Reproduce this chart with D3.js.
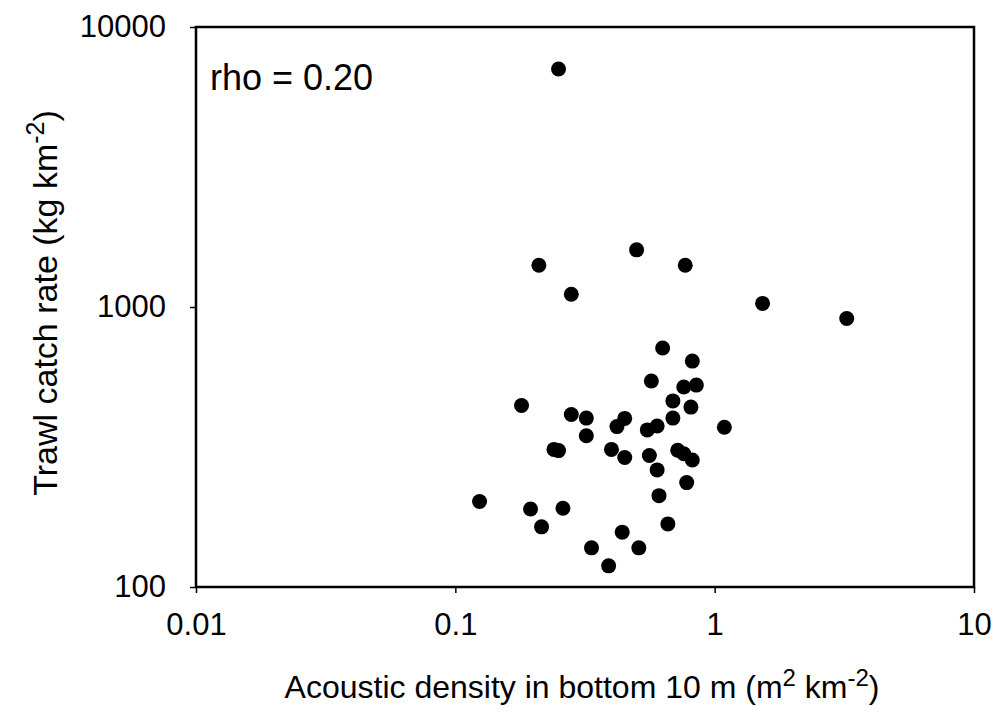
<!DOCTYPE html>
<html>
<head>
<meta charset="utf-8">
<style>
  body { margin: 0; background: #fff; }
  svg text { font-family: "Liberation Sans", Arial, sans-serif; fill: #000; }
</style>
</head>
<body>
<div id="chart"></div>
<script src="https://d3js.org/d3.v7.min.js"></script>
<script>
    // acoustic density (m2 km-2) and trawl catch rate (kg km-2)
    const acoustic = [0.25, 0.50, 0.21, 0.77, 0.28, 1.53, 3.23, 0.63, 0.82, 0.57,
        0.76, 0.85, 0.69, 0.81, 0.18, 0.28, 0.32, 0.69, 0.45, 0.42,
        0.55, 0.60, 1.09, 0.32, 0.24, 0.25, 0.40, 0.45, 0.56, 0.72,
        0.76, 0.82, 0.60, 0.78, 0.61, 0.124, 0.195, 0.26, 0.215, 0.66,
        0.44, 0.335, 0.51, 0.39];
    const catchRate = [7080, 1600, 1410, 1410, 1110, 1030, 910, 714, 641, 544,
        518, 526, 462, 439, 445, 413, 401, 401, 400, 374,
        364, 376, 372, 347, 310, 307, 310, 290, 295, 308,
        299, 284, 262, 236, 212, 202, 190, 191, 164, 168,
        157, 138, 138, 119];
    const xTicks = [0.01, 0.1, 1, 10];
    const yTicks = [100, 1000, 10000];
    const rhoLabel = 'rho = 0.20';

    const W = 998, H = 712;
    const margin = { top: 27, right: 24, bottom: 125, left: 196 };

    const svg = d3.select('#chart')
        .append('svg')
        .attr('width', W)
        .attr('height', H);

    const x = d3.scaleLog()
        .domain([0.01, 10])
        .range([margin.left, W - margin.right]);

    const y = d3.scaleLog()
        .domain([100, 10000])
        .range([H - margin.bottom, margin.top]);

    const fmt = d => String(d);

    const xAxis = svg.append('g')
        .attr('transform', `translate(0,${H - margin.bottom})`)
        .call(d3.axisBottom(x).tickValues(xTicks).tickFormat(fmt)
            .tickSize(6).tickSizeOuter(0).tickPadding(20));

    const yAxis = svg.append('g')
        .attr('transform', `translate(${margin.left},0)`)
        .call(d3.axisLeft(y).tickValues(yTicks).tickFormat(fmt)
            .tickSize(6).tickSizeOuter(0).tickPadding(24));

    [xAxis, yAxis].forEach(a => {
        a.select('.domain').remove();
        a.selectAll('line').attr('stroke', '#000').attr('stroke-width', 1.5);
        a.selectAll('text').attr('font-size', 31).attr('font-family', '"Liberation Sans", Arial, sans-serif');
    });

    // frame
    svg.append('rect')
        .attr('x', x(0.01))
        .attr('y', y(10000))
        .attr('width', x(10) - x(0.01))
        .attr('height', y(100) - y(10000))
        .attr('fill', 'none')
        .attr('stroke', '#000')
        .attr('stroke-width', 2.5);

    svg.append('g')
        .selectAll('circle')
        .data(acoustic.map((a, i) => [a, catchRate[i]]))
        .enter()
        .append('circle')
        .attr('cx', d => x(d[0]))
        .attr('cy', d => y(d[1]))
        .attr('r', 7.5)
        .attr('fill', '#000');

    svg.append('text')
        .attr('x', 210)
        .attr('y', 90)
        .attr('font-size', 36)
        .text(rhoLabel);

    // axis titles
    const xt = svg.append('text')
        .attr('x', 582)
        .attr('y', 698)
        .attr('text-anchor', 'middle')
        .attr('font-size', 32);
    xt.append('tspan').text('Acoustic density in bottom 10 m (m');
    xt.append('tspan').attr('dy', -12).attr('font-size', 24).text('2');
    xt.append('tspan').attr('dy', 12).text(' km');
    xt.append('tspan').attr('dy', -12).attr('font-size', 24).text('-2');
    xt.append('tspan').attr('dy', 12).text(')');

    const yt = svg.append('text')
        .attr('transform', `translate(57,${(y(100) + y(10000)) / 2 - 4}) rotate(-90)`)
        .attr('text-anchor', 'middle')
        .attr('font-size', 34);
    yt.append('tspan').text('Trawl catch rate (kg km');
    yt.append('tspan').attr('dy', -13).attr('font-size', 25).text('-2');
    yt.append('tspan').attr('dy', 13).text(')');
</script>
</body>
</html>
